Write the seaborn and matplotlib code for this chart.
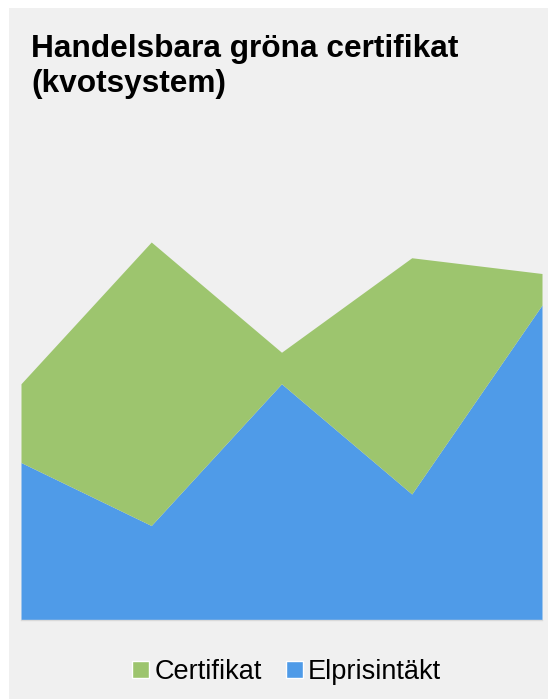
import matplotlib
matplotlib.use("Agg")
import matplotlib.pyplot as plt
import seaborn as sns
import numpy as np
from matplotlib.patches import Rectangle, Patch

# Data (arbitrary units, stacked)
periods = [0, 1, 2, 3, 4]
elprisintakt = [5, 3, 7.5, 4, 10]
certifikat = [2.5, 9, 1, 7.5, 1]
series_names = ["Elprisintäkt", "Certifikat"]
colors = {"Elprisintäkt": "#4f9be8", "Certifikat": "#9dc56e"}

sns.set_theme(style="white")
plt.rcParams['font.family'] = ['Liberation Sans', 'DejaVu Sans']

W, H = 548, 699
fig = plt.figure(figsize=(W / 100, H / 100), dpi=100)
fig.patch.set_facecolor("white")
fig.patches.append(Rectangle((9 / W, 0), 1 - 9 / W, 1 - 8 / H, transform=fig.transFigure,
                             facecolor="#f0f0f0", edgecolor="none", zorder=-10))

ax = fig.add_axes([21 / W, 79 / H, (542 - 21) / W, 441 / H])
ax.set_zorder(5)
ax.set_facecolor("none")
ax.stackplot(periods, elprisintakt, certifikat,
             colors=[colors[n] for n in series_names], linewidth=0)
ax.set_xlim(periods[0], periods[-1])
ax.set_ylim(0, 14)
ax.set_xticks([])
ax.set_yticks([])
for s in ["top", "left", "right"]:
    ax.spines[s].set_visible(False)
ax.spines["bottom"].set_color("#d9d9d9")
ax.spines["bottom"].set_linewidth(1)

fig.text(31 / W, 1 - 34 / H, "Handelsbara gröna certifikat\n(kvotsystem)",
         ha="left", va="top", fontsize=22.8, fontweight="bold", color="black",
         linespacing=1.22)

handles = [Patch(facecolor=colors["Certifikat"], label="Certifikat"),
           Patch(facecolor=colors["Elprisintäkt"], label="Elprisintäkt")]
leg = fig.legend(handles=handles, loc="center", bbox_to_anchor=(0.523, 27 / H), ncol=2,
                 frameon=False, fontsize=19.5, handlelength=0.62, handleheight=0.62,
                 handletextpad=0.2, columnspacing=0.9)
for t in leg.get_texts():
    t.set_color("black")

fig.savefig("out.png", dpi=100)
